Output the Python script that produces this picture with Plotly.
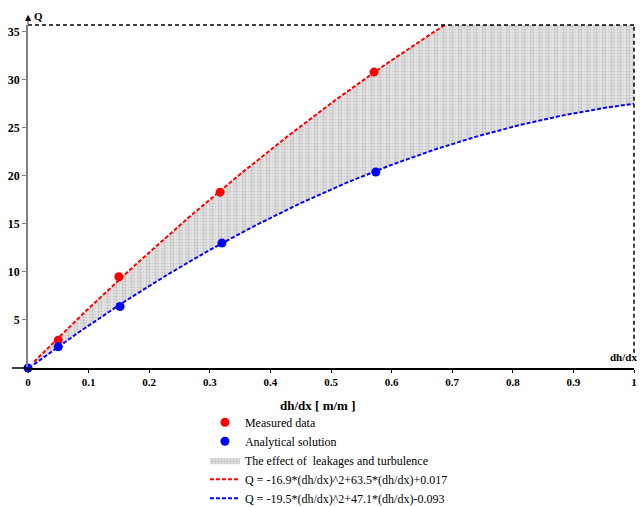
import numpy as np
import plotly.graph_objects as go

# Data
measured_x = [0.05, 0.15, 0.317, 0.571]
measured_q = [2.9, 9.5, 18.3, 30.8]
analytical_x = [0.0, 0.05, 0.152, 0.32, 0.574]
analytical_q = [0.0, 2.2, 6.4, 13.0, 20.4]

# Fitted curve coefficients (from legend equations): a*x^2 + b*x + c
red_coef = [-16.9, 63.5, 0.017]
blue_coef = [-19.5, 47.1, -0.093]

x_ticks = [0, 0.1, 0.2, 0.3, 0.4, 0.5, 0.6, 0.7, 0.8, 0.9, 1]
x_tick_text = ["0", "0.1", "0.2", "0.3", "0.4", "0.5", "0.6", "0.7", "0.8", "0.9", "1"]
y_ticks = [5, 10, 15, 20, 25, 30, 35]
y_max = 35.7

xs = np.linspace(0, 1, 201)
red_q = red_coef[0] * xs**2 + red_coef[1] * xs + red_coef[2]
blue_q = blue_coef[0] * xs**2 + blue_coef[1] * xs + blue_coef[2]
red_vis = xs[(xs >= 0.008) & (red_q <= y_max + 0.3)]
red_vis_q = red_coef[0] * red_vis**2 + red_coef[1] * red_vis + red_coef[2]
blue_vis = xs[xs >= 0.008]
blue_vis_q = blue_coef[0] * blue_vis**2 + blue_coef[1] * blue_vis + blue_coef[2]

FONT = "Liberation Serif, Times New Roman, serif"

fig = go.Figure()
# dotted base texture
fig.add_trace(go.Scatter(x=xs, y=blue_q, mode="lines", line=dict(width=0),
                         showlegend=False, hoverinfo="skip"))
fig.add_trace(go.Scatter(x=xs, y=np.minimum(red_q, y_max), mode="lines", line=dict(width=0),
                         fill="tonexty", fillcolor="#d8d8d8",
                         fillpattern=dict(shape=".", bgcolor="#e2e2e2", fgcolor="#a0a0a0",
                                          size=3, solidity=0.45),
                         name="The effect of  leakages and turbulence", legendrank=3))
# vertical stripe overlay
fig.add_trace(go.Scatter(x=xs, y=blue_q, mode="lines", line=dict(width=0),
                         showlegend=False, hoverinfo="skip"))
fig.add_trace(go.Scatter(x=xs, y=np.minimum(red_q, y_max), mode="lines", line=dict(width=0),
                         fill="tonexty", fillcolor="rgba(0,0,0,0)",
                         fillpattern=dict(shape="|", bgcolor="rgba(0,0,0,0)",
                                          fgcolor="rgba(240,240,240,0.85)", size=8, solidity=0.4),
                         showlegend=False, hoverinfo="skip"))
fig.add_trace(go.Scatter(x=red_vis, y=red_vis_q, mode="lines",
                         line=dict(color="#ff0000", width=2, dash="4px,2px"),
                         name="Q = -16.9*(dh/dx)^2+63.5*(dh/dx)+0.017", legendrank=4))
fig.add_trace(go.Scatter(x=blue_vis, y=blue_vis_q, mode="lines",
                         line=dict(color="#0000ff", width=2, dash="4px,2px"),
                         name="Q = -19.5*(dh/dx)^2+47.1*(dh/dx)-0.093", legendrank=5))
fig.add_trace(go.Scatter(x=measured_x, y=measured_q, mode="markers",
                         marker=dict(color="#ff0000", size=9), cliponaxis=False,
                         name="Measured data", legendrank=1))
fig.add_trace(go.Scatter(x=analytical_x, y=analytical_q, mode="markers",
                         marker=dict(color="#0000ff", size=9), cliponaxis=False,
                         name="Analytical solution", legendrank=2))

fig.update_layout(
    width=640, height=507,
    margin=dict(l=28, r=6, t=25, b=139, autoexpand=False),
    paper_bgcolor="white", plot_bgcolor="white",
    font=dict(family=FONT, color="black"),
    xaxis=dict(range=[0, 1], tickvals=x_ticks, ticktext=x_tick_text, automargin=False,
               showgrid=False, zeroline=False, showline=True, linecolor="black",
               linewidth=1.5, ticks="outside", ticklen=3, tickcolor="black",
               tickfont=dict(family=FONT, size=11, color="black", weight="bold")),
    yaxis=dict(range=[0, y_max], tickvals=y_ticks, showgrid=False, zeroline=False,
               automargin=False,
               showline=True, linecolor="#808080", linewidth=1.5,
               ticks="outside", ticklen=4, tickcolor="#808080",
               tickfont=dict(family=FONT, size=12, color="black", weight="bold")),
    legend=dict(x=0.292, y=-0.116, xanchor="left", yanchor="top", traceorder="normal",
                font=dict(family=FONT, size=12, color="black"),
                tracegroupgap=0, bgcolor="rgba(0,0,0,0)"),
    showlegend=True,
    shapes=[
        dict(type="line", xref="paper", yref="paper", x0=0, x1=1, y0=1, y1=1,
             line=dict(color="black", width=1.5, dash="4px,3px")),
        dict(type="line", xref="paper", yref="y", x0=1, x1=1, y0=1.6, y1=y_max,
             line=dict(color="black", width=1.5, dash="4px,3px")),
        dict(type="line", xref="paper", yref="paper", x0=-16 / 606, x1=0, y0=0, y1=0,
             line=dict(color="black", width=1.5)),
        dict(type="line", xref="paper", yref="paper", x0=0, x1=0, y0=1, y1=1 + 9 / 343,
             line=dict(color="#808080", width=1.5)),
    ],
    annotations=[
        dict(text="dh/dx [ m/m ]", xref="paper", yref="paper", x=(317 - 28) / 606,
             y=-37 / 343, xanchor="center", yanchor="middle", showarrow=False,
             font=dict(family=FONT, size=13, color="black", weight="bold")),
        dict(text="▲", xref="paper", yref="paper", x=0, y=1 + 8 / 343,
             xanchor="center", yanchor="middle", showarrow=False,
             font=dict(family="DejaVu Sans", size=8, color="black")),
        dict(text="Q", xref="paper", yref="paper", x=4 / 606, y=1 + 9 / 343,
             xanchor="left", yanchor="middle", showarrow=False,
             font=dict(family=FONT, size=11, color="black", weight="bold")),
        dict(text="dh/dx", xref="paper", yref="paper", x=(639 - 28) / 606, y=11 / 343,
             xanchor="right", yanchor="middle", showarrow=False,
             font=dict(family=FONT, size=11, color="black", weight="bold")),
    ],
)

fig.write_html(
    "out.html",
    config={"displayModeBar": False},
    post_script=("document.body.style.margin='0';"
                 "document.body.style.overflow='hidden';"
                 "document.documentElement.style.overflow='hidden';"),
)
